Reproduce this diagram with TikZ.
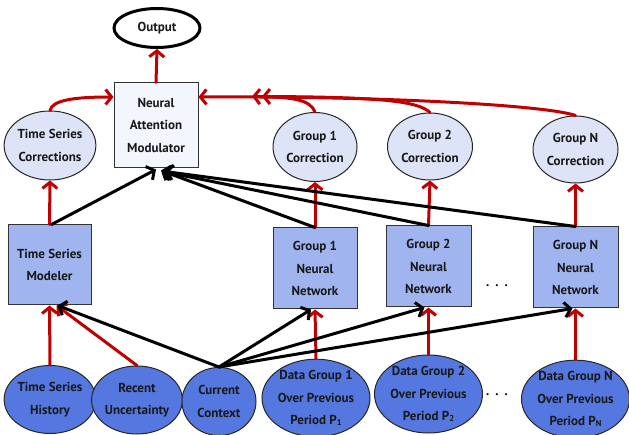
\documentclass[tikz,border=0pt]{standalone}
\usepackage{fontspec}
\setmainfont{PT Sans}
\usetikzlibrary{shapes.geometric,arrows.meta}
\definecolor{redA}{HTML}{C00000}
\definecolor{lav}{HTML}{DDE4F7}
\definecolor{nnb}{HTML}{A0B4F0}
\definecolor{dblue}{HTML}{5578E0}
\definecolor{namf}{HTML}{F4F6FE}
\newcommand{\subn}[1]{\raisebox{-0.6pt}{\fontsize{8.5}{8.5}\selectfont #1}}
\begin{document}
\begin{tikzpicture}[x=1pt,y=-1pt,
  txt/.style={font=\fontsize{13}{22.5}\selectfont\bfseries, align=center, text=black!90},
  ell/.style={ellipse, draw=black!85, line width=1pt, inner sep=0pt, txt},
  boxn/.style={rectangle, draw=black!80, line width=1pt, inner sep=0pt, txt},
  ra/.style={draw=redA, line width=3pt, line cap=round, line join=round,
     -{Straight Barb[length=6pt,width=15pt,line width=3pt]}},
  ba/.style={draw=black, line width=3pt, line cap=round, line join=round,
     -{Straight Barb[length=6pt,width=15pt,line width=3pt]}},
  dotsn/.style={font=\fontsize{13}{13}\selectfont\bfseries, inner sep=0pt}
]
\useasboundingbox (0,0) rectangle (629,435);

% top
\node[ellipse, draw=black, line width=3pt, fill=white, minimum width=86pt, minimum height=39pt, txt] (out) at (157,28) {Output};
\node[boxn, fill=namf, minimum width=84pt, minimum height=85pt] (nam) at (156,125.5) {Neural\\Attention\\Modulator};

% corrections
\node[ell, fill=lav, minimum width=86pt, minimum height=69pt] (tsc) at (50,145.5) {Time Series\\Corrections};
\node[ell, fill=lav, minimum width=84pt, minimum height=69pt] (g1c) at (315,147) {Group 1\\Correction};
\node[ell, fill=lav, minimum width=85pt, minimum height=67pt] (g2c) at (430,146.5) {Group 2\\Correction};
\node[ell, fill=lav, minimum width=85pt, minimum height=67pt] (gnc) at (575.5,149.5) {Group N\\Correction};

% models
\node[boxn, fill=nnb, minimum width=83pt, minimum height=80pt] (tsm) at (49.5,265) {Time Series\\Modeler};
\node[boxn, fill=nnb, minimum width=84pt, minimum height=81pt] (g1n) at (315,268.5) {Group 1\\Neural\\Network};
\node[boxn, fill=nnb, minimum width=85pt, minimum height=81pt] (g2n) at (428.5,266.5) {Group 2\\Neural\\Network};
\node[boxn, fill=nnb, minimum width=85pt, minimum height=81pt] (gnn) at (575.5,267.5) {Group N\\Neural\\Network};
\node[dotsn] (d1) at (497,286) {.\hspace{6pt}.\hspace{6pt}.};

% inputs
\node[ell, fill=dblue, minimum width=85pt, minimum height=68pt] (tsh) at (50,399.5) {Time Series\\History};
\node[ell, fill=dblue, minimum width=80pt, minimum height=68pt] (ru) at (137,400) {Recent\\Uncertainty};
\node[ell, fill=dblue, minimum width=74pt, minimum height=68pt] (cc) at (219,401.5) {Current\\Context};
\node[ell, fill=dblue, minimum width=102pt, minimum height=76pt] (dg1) at (316,398) {Data Group 1\\Over Previous\\Period P\subn{1}};
\node[ell, fill=dblue, minimum width=107pt, minimum height=78pt] (dg2) at (428.5,394) {Data Group 2\\Over Previous\\Period P\subn{2}};
\node[ell, fill=dblue, minimum width=105pt, minimum height=74pt] (dgn) at (575.5,399) {Data Group N\\Over Previous\\Period P\subn{N}};
\node[dotsn] (d2) at (497,395) {.\hspace{6pt}.\hspace{6pt}.};

% red arrows
\draw[ra] (nam.north) -- (out.south);
\draw[ra] (tsm.north) -- (tsc.south);
\draw[ra] (g1n.north) -- (g1c.south);
\draw[ra] (g2n.north) -- (g2c.south);
\draw[ra] (gnn.north) -- (gnc.south);
\draw[ra] (tsh.north) -- (tsm.south);
\draw[ra] (ru.north) -- ([xshift=7pt]tsm.south);
\draw[ra] (dg1.north) -- (g1n.south);
\draw[ra] (dg2.north) -- (g2n.south);
\draw[ra] (dgn.north) -- (gnn.south);

% black arrows from context
\draw[ba] (cc.north) -- ([xshift=8pt]tsm.south);
\draw[ba] (cc.north) -- ([xshift=-4pt]g1n.south);
\draw[ba] (cc.north) -- ([xshift=-4pt]g2n.south);
\draw[ba] (cc.north) -- ([xshift=-3pt]gnn.south);

% black arrows to modulator
\draw[ba] ([xshift=2pt]tsm.north) -- ([xshift=0pt,yshift=-1pt]nam.south);
\draw[ba] (g1n.north) -- ([xshift=5pt,yshift=-2pt]nam.south);
\draw[ba] (g2n.north) -- ([xshift=7pt,yshift=-3pt]nam.south);
\draw[ba] (gnn.north) -- ([xshift=9pt,yshift=-3pt]nam.south);

% red corrections to modulator
\draw[ra] (tsc.north) .. controls (52,100) and (75,97) .. ([yshift=28.5pt]nam.west);
\draw[ra] (gnc.north) .. controls (545,105) and (380,96) .. ([yshift=28.5pt]nam.east);
\draw[ra] (g2c.north) .. controls (418,101) and (380,97) .. (262,96.5);
\draw[ra] (g1c.north) .. controls (310,100) and (295,97) .. (252,96.5);
\end{tikzpicture}
\end{document}
